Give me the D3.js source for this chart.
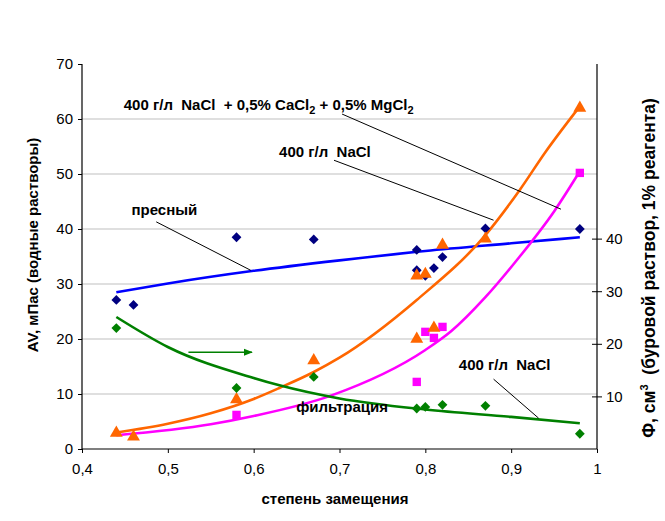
<!DOCTYPE html>
<html>
<head>
<meta charset="utf-8">
<script src="https://cdn.jsdelivr.net/npm/d3@7"></script>
<style>
  body { margin: 0; background: #fff; }
  svg text { font-family: "Liberation Sans", Arial, sans-serif; }
</style>
</head>
<body>
<div id="chart"></div>
<script>
// points (x = степень замещения)
const freshPts = [[0.44, 27.1], [0.46, 26.2], [0.58, 38.5], [0.67, 38.1], [0.79, 36.2], [0.79, 32.5],
    [0.80, 31.5], [0.81, 32.9], [0.82, 34.9], [0.87, 40.1], [0.98, 40.0]]
const naclPts = [[0.44, 2.9], [0.46, 2.2], [0.58, 9.0], [0.67, 16.1], [0.79, 20.0], [0.79, 31.5],
    [0.80, 31.8], [0.81, 22.0], [0.82, 37.1], [0.87, 38.2], [0.98, 62.0]]
const mixPts = [[0.58, 6.2], [0.79, 12.2], [0.80, 21.3], [0.81, 20.2], [0.82, 22.2], [0.98, 50.2]]
const filtPts = [[0.44, 23.0], [0.58, 11.6], [0.67, 13.7], [0.79, 7.7], [0.80, 8.0], [0.82, 8.4],
    [0.87, 8.2], [0.98, 2.9]]

// trend lines
const freshLine = [[0.44, 28.5], [0.5, 30.1], [0.6, 32.4], [0.7, 34.3], [0.8, 36.0], [0.9, 37.4], [0.98, 38.5]]
const naclLine = [[0.44, 3.0], [0.5, 4.6], [0.55, 6.5], [0.6, 9.1], [0.63, 11.1], [0.67, 14.0], [0.7, 16.6],
    [0.79, 27.1], [0.87, 38.9], [0.91, 47.1], [0.94, 54.0], [0.98, 62.3]]
const mixLine = [[0.44, 2.5], [0.55, 4.5], [0.6, 6.0], [0.69, 9.7], [0.8, 18.0], [0.83, 21.4], [0.87, 27.6],
    [0.91, 35.0], [0.95, 43.2], [0.98, 50.5]]
const filtLine = [[0.44, 25.1], [0.5, 19.4], [0.6, 13.5], [0.63, 12.1], [0.7, 9.6], [0.8, 7.5], [0.9, 6.1], [0.98, 4.9]]

const xTicks = [0.4, 0.5, 0.6, 0.7, 0.8, 0.9, 1]
const yTicks = [0, 10, 20, 30, 40, 50, 60, 70]
const y2Ticks = [10, 20, 30, 40]

// chart geometry
const width = 665
const height = 521
const margin = { left: 82, right: 70, top: 64, bottom: 72 }

const svg = d3.select('#chart')
    .append('svg')
    .attr('width', width)
    .attr('height', height)

const xScale = d3.scaleLinear()
    .domain([0.4, 1])
    .range([margin.left, width - margin.right + 2])

const yScale = d3.scaleLinear()
    .domain([0, 70])
    .range([height - margin.bottom, margin.top])

// right axis (filtration)
const y2Scale = d3.scaleLinear()
    .domain([0, 73.2])
    .range([height - margin.bottom, margin.top])

// grid
svg.append('g')
    .selectAll('line')
    .data(yTicks.filter(d => d > 0 && d < 70))
    .enter()
    .append('line')
    .attr('x1', xScale(0.4))
    .attr('x2', xScale(1))
    .attr('y1', d => yScale(d))
    .attr('y2', d => yScale(d))
    .attr('stroke', '#d4d4d4')
    .attr('stroke-width', 1.5)

// axes
const xAxis = d3.axisBottom(xScale)
    .tickValues(xTicks)
    .tickSize(4)
    .tickFormat(d => String(d).replace('.', ','))
const yAxis = d3.axisLeft(yScale)
    .tickValues(yTicks)
    .tickSize(4)
const y2Axis = d3.axisRight(y2Scale)
    .tickValues(y2Ticks)
    .tickSize(5)

const styleAxis = (g) => {
    g.select('.domain').attr('stroke', '#000').attr('stroke-width', 1.2)
    g.selectAll('.tick line').attr('stroke', '#000')
    g.selectAll('.tick text').attr('font-size', 15).attr('fill', '#000')
        .style('font-family', '"Liberation Sans", Arial, sans-serif')
}

svg.append('g')
    .attr('transform', 'translate(0,' + yScale(0) + ')')
    .call(xAxis)
    .call(g => g.selectAll('.tick text').attr('dy', '1.2em'))
    .call(styleAxis)
    .call(g => g.select('.domain').attr('d', 'M' + xScale(0.4) + ',0H' + xScale(1)))

svg.append('g')
    .attr('transform', 'translate(' + xScale(0.4) + ',0)')
    .call(yAxis)
    .call(styleAxis)
    .call(g => g.selectAll('.tick text').attr('x', -9))
    .call(g => g.select('.domain').attr('d', 'M0,' + yScale(70) + 'V' + yScale(0)))

svg.append('g')
    .attr('transform', 'translate(' + xScale(1) + ',0)')
    .call(y2Axis)
    .call(styleAxis)
    .call(g => g.selectAll('.tick line').attr('x1', -5))
    .call(g => g.selectAll('.tick text').attr('x', 9))
    .call(g => g.select('.domain').attr('d', 'M0,' + yScale(70) + 'V' + yScale(0)))

// trend lines
const lineL = d3.line().x(d => xScale(d[0])).y(d => yScale(d[1])).curve(d3.curveMonotoneX)
const lineR = d3.line().x(d => xScale(d[0])).y(d => y2Scale(d[1])).curve(d3.curveMonotoneX)

const addLine = (pts, gen, color) => {
    svg.append('path')
        .datum(pts)
        .attr('d', gen)
        .attr('fill', 'none')
        .attr('stroke', color)
        .attr('stroke-width', 2.6)
}
addLine(freshLine, lineL, '#0000ff')
addLine(naclLine, lineL, '#ff6600')
addLine(mixLine, lineL, '#ff00ff')
addLine(filtLine, lineR, '#008000')

// markers, diamonds are squares turned by 45 degrees
const addMarks = (pts, yS, shape, size, color, turn) => {
    svg.append('g')
        .selectAll('path')
        .data(pts)
        .enter()
        .append('path')
        .attr('d', d3.symbol().type(shape).size(size))
        .attr('transform', d => 'translate(' + xScale(d[0]) + ',' + yS(d[1]) + ')' + (turn ? ' rotate(45)' : ''))
        .attr('fill', color)
}
addMarks(mixPts, yScale, d3.symbolSquare, 70, '#ff00ff', false)
addMarks(freshPts, yScale, d3.symbolSquare, 48, '#000080', true)
addMarks(naclPts, yScale, d3.symbolTriangle, 72, '#ff6600', false)
addMarks(filtPts, y2Scale, d3.symbolSquare, 48, '#008000', true)

// annotations: label position and leader line, in data units
const notes = [
    { x: 0.6175, y: 61.6, from: [0.703, 60.9], to: [0.958, 43.6] },
    { x: 0.683, y: 53.1, from: [0.6936, 52.5], to: [0.8795, 41.6] },
    { x: 0.496, y: 42.5, from: [0.4865, 41.3], to: [0.5965, 32.5] },
    { x: 0.8924, y: 14.4, from: [0.8795, 12.7], to: [0.932, 5.6] }
]
const noteText = ['400 г/л  NaCl  + 0,5% CaCl', '400 г/л  NaCl', 'пресный', '400 г/л  NaCl']

notes.forEach(n => {
    svg.append('line')
        .attr('x1', xScale(n.from[0])).attr('y1', yScale(n.from[1]))
        .attr('x2', xScale(n.to[0])).attr('y2', yScale(n.to[1]))
        .attr('stroke', '#000')
        .attr('stroke-width', 1)
})

const labelText = (i, t) => {
    const n = notes[i]
    return svg.append('text')
        .attr('x', xScale(n.x))
        .attr('y', yScale(n.y))
        .attr('text-anchor', 'middle')
        .attr('font-size', 15)
        .attr('font-weight', 'bold')
        .style('white-space', 'pre')
        .text(t)
}
const t0 = labelText(0, noteText[0])
t0.append('tspan').attr('font-size', 11).attr('dy', 4).text('2')
t0.append('tspan').attr('dy', -4).text(' + 0,5% MgCl')
t0.append('tspan').attr('font-size', 11).attr('dy', 4).text('2')
labelText(1, noteText[1])
labelText(2, noteText[2])
labelText(3, noteText[3])

svg.append('text')
    .attr('x', xScale(0.703))
    .attr('y', yScale(6.7))
    .attr('text-anchor', 'middle')
    .attr('font-size', 15)
    .attr('font-weight', 'bold')
    .text('фильтрация')

// arrow to the right axis
svg.append('defs').append('marker')
    .attr('id', 'arr')
    .attr('viewBox', '0 0 10 10')
    .attr('refX', 9).attr('refY', 5)
    .attr('markerWidth', 6).attr('markerHeight', 6)
    .attr('orient', 'auto')
    .append('path')
    .attr('d', 'M0,1L10,5L0,9Z')
    .attr('fill', '#008000')
svg.append('line')
    .attr('x1', xScale(0.524)).attr('y1', yScale(17.6))
    .attr('x2', xScale(0.598)).attr('y2', yScale(17.6))
    .attr('stroke', '#008000')
    .attr('stroke-width', 1.5)
    .attr('marker-end', 'url(#arr)')

// axis titles
svg.append('text')
    .attr('transform', 'translate(38,245) rotate(-90)')
    .attr('text-anchor', 'middle')
    .attr('font-size', 15)
    .attr('font-weight', 'bold')
    .text('AV, мПас (водные растворы)')

const rt = svg.append('text')
    .attr('transform', 'translate(655,268) rotate(-90)')
    .attr('text-anchor', 'middle')
    .attr('font-size', 17.5)
    .attr('font-weight', 'bold')
    .style('white-space', 'pre')
    .text('Ф, см')
rt.append('tspan').attr('font-size', 11).attr('dy', -7).text('3')
rt.append('tspan').attr('dy', 7).text('  (буровой раствор, 1% реагента)')

svg.append('text')
    .attr('x', 335)
    .attr('y', 504)
    .attr('text-anchor', 'middle')
    .attr('font-size', 15)
    .attr('font-weight', 'bold')
    .text('степень замещения')
</script>
</body>
</html>
